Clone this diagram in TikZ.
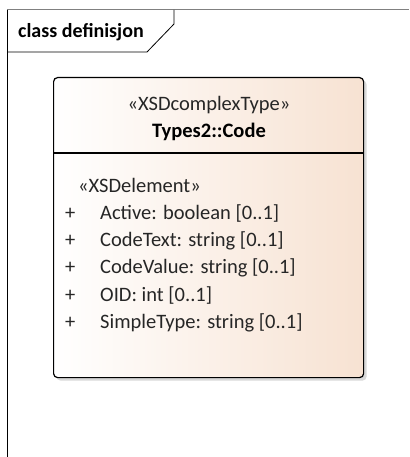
\documentclass[tikz,border=0pt]{standalone}
\usepackage{fontspec}
\setmainfont{Carlito}
\usetikzlibrary{positioning,calc,shadows}
\definecolor{peach}{RGB}{247,226,210}
\definecolor{framegray}{RGB}{128,128,128}
\tikzset{
  classbox/.style={draw=black,line width=1.2pt,rounded corners=4pt,
    left color=white,right color=peach,drop shadow={opacity=0.3,shadow xshift=3pt,shadow yshift=-3pt},
    minimum width=310pt,minimum height=300pt,inner sep=0pt},
  txt/.style={font=\fontsize{20.5}{24}\selectfont,text=black!85,inner sep=0pt,anchor=base},
  attr/.style={txt,anchor=base west},
}
\begin{document}
\begin{tikzpicture}[x=1pt,y=-1pt]
    \useasboundingbox (0,0) rectangle (409,457);
    % frame
    \draw [framegray,line width=1pt] (7,10) -- (409,10);
    \draw [line width=1pt] (7,10) -- (7,457);
    \draw [line width=0.8pt] (7,52) -- (147,52) -- (174,24) -- (174,10);
    \node [attr,text=black,font=\bfseries\fontsize{20}{24}\selectfont] (title) at (18,37.7) {class definisjon};
    % class
    \node [classbox,anchor=north west] (code) at (53,77) {};
    \draw [line width=1.2pt] (code.west |- 0,153) -- (code.east |- 0,153);
    \node [txt] (stereo) at (209,110.7) {«XSDcomplexType»};
    \node [txt,text=black,font=\bfseries\fontsize{20.5}{24}\selectfont] (name) at (209,138) {Types2::Code};
    \node [attr] (elem) at (78,192.7) {«XSDelement»};
    \foreach \y/\t [count=\i] in {219/Active: boolean [0..1],246.3/CodeText: string [0..1],
        273.6/CodeValue: string [0..1],301/OID: int [0..1],328.3/SimpleType: string [0..1]}{
      \node [attr] (plus\i) at (65,\y) {+};
      \node [attr] (a\i) at (100,\y) {\t};
    }
\end{tikzpicture}
\end{document}
